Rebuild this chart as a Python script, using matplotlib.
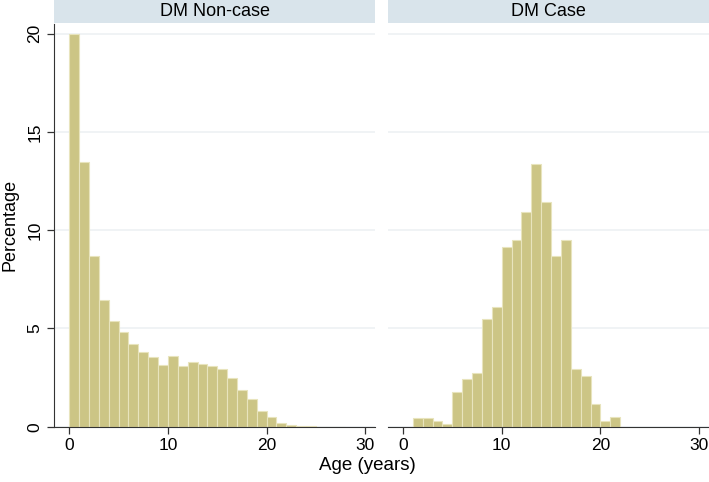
"""Age distribution histograms, DM non-case vs DM case"""
import numpy as np
import matplotlib.pyplot as plt

plt.rcParams['font.family'] = ['Liberation Sans', 'DejaVu Sans']

# bin starts (1-year bins) and percentages
noncase_bins = list(range(0, 28))
noncase_pct = [20.0, 13.48, 8.71, 6.43, 5.38, 4.84, 4.21, 3.82, 3.57, 3.14,
               3.60, 3.09, 3.31, 3.17, 3.09, 2.92, 2.46, 1.85, 1.41, 0.80,
               0.48, 0.19, 0.08, 0.04, 0.02, 0.01, 0.01, 0.01]

case_bins = list(range(1, 22))
case_pct = [0.46, 0.46, 0.29, 0.15, 1.77, 2.41, 2.73, 5.48, 6.11, 9.17,
            9.51, 10.95, 13.38, 11.45, 8.69, 9.51, 2.92, 2.58, 1.15, 0.29, 0.48]

panel_titles = ['DM Non-case', 'DM Case']

bar_color = '#ccc585'
edge_color = '#e8e4bd'
strip_color = '#d9e4eb'
grid_color = '#edf1f4'
axis_color = '#333333'

fig = plt.figure(figsize=(7.09, 4.82), dpi=100)
ax1 = fig.add_axes([0.0762, 0.1147, 0.4528, 0.8355])
ax2 = fig.add_axes([0.5468, 0.1147, 0.4532, 0.8355])

for ax, bins, pct in [(ax1, noncase_bins, noncase_pct),
                      (ax2, case_bins, case_pct)]:
    ax.bar(bins, pct, width=1.0, align='edge', color=bar_color,
           edgecolor=edge_color, linewidth=0.8, zorder=2)
    ax.set_xlim(-1.55, 31.0)
    ax.set_ylim(0, 20.5)
    ax.set_yticks([0, 5, 10, 15, 20])
    ax.set_xticks([0, 10, 20, 30])
    ax.grid(axis='y', color=grid_color, linewidth=1.2, zorder=0)
    ax.set_axisbelow(True)
    for side in ['top', 'right']:
        ax.spines[side].set_visible(False)
    ax.spines['bottom'].set_color(axis_color)
    ax.spines['left'].set_color(axis_color)
    ax.tick_params(axis='both', colors=axis_color, labelcolor='black',
                   labelsize=12.5, length=5, width=0.9)
    ax.tick_params(axis='x', pad=3)

for lbl in ax1.get_yticklabels():
    lbl.set_rotation(90)
    lbl.set_va('center')

ax2.spines['left'].set_visible(False)
ax2.tick_params(axis='y', left=False, labelleft=False)

# header strips with panel titles
for ax, title in zip((ax1, ax2), panel_titles):
    pos = ax.get_position()
    y0 = pos.y1 + 0.003
    fig.patches.append(plt.Rectangle((pos.x0, y0), pos.width, 1 - y0,
                                     transform=fig.transFigure,
                                     facecolor=strip_color, edgecolor='none'))
    fig.text(pos.x0 + pos.width / 2, (y0 + 1) / 2, title, ha='center',
             va='center', fontsize=13, color='black', zorder=5)

ax1.set_ylabel('Percentage', fontsize=13, labelpad=6)
fig.text(0.518, 0.035, 'Age (years)', ha='center', va='center', fontsize=13.5)

plt.savefig('out.png', dpi=100)
